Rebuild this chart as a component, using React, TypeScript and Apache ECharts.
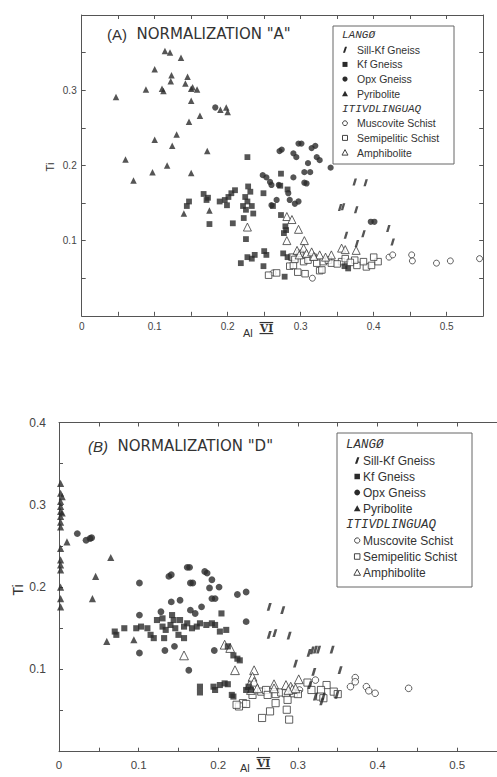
import React, { useEffect, useRef } from "react";
import * as echarts from "echarts";

type P = [number, number];

// ---------- Panel A (Normalization "A") ----------
const A_sill: P[] = [
  [0.354, 0.144], [0.358, 0.145], [0.376, 0.141], [0.420, 0.116], [0.362, 0.107],
  [0.386, 0.109], [0.426, 0.098], [0.374, 0.178], [0.389, 0.177], [0.377, 0.096],
];
const A_kf: P[] = [
  [0.227, 0.211], [0.273, 0.189], [0.282, 0.168], [0.272, 0.173], [0.249, 0.163],
  [0.228, 0.172], [0.231, 0.165], [0.224, 0.158], [0.227, 0.152], [0.233, 0.146],
  [0.221, 0.146], [0.225, 0.141], [0.235, 0.136], [0.210, 0.167], [0.205, 0.163],
  [0.201, 0.158], [0.196, 0.154], [0.189, 0.152], [0.199, 0.147], [0.167, 0.162],
  [0.173, 0.157], [0.171, 0.154], [0.147, 0.152], [0.144, 0.146], [0.175, 0.122],
  [0.207, 0.123], [0.222, 0.130], [0.225, 0.102], [0.262, 0.146], [0.273, 0.134],
  [0.279, 0.119], [0.280, 0.114], [0.277, 0.110], [0.250, 0.086], [0.253, 0.081],
  [0.227, 0.078], [0.233, 0.076], [0.237, 0.081], [0.218, 0.070], [0.249, 0.066],
  [0.276, 0.083], [0.282, 0.078], [0.278, 0.052], [0.365, 0.063], [0.360, 0.066],
];
const A_opx: P[] = [
  [0.183, 0.277], [0.271, 0.219], [0.274, 0.221], [0.290, 0.216], [0.294, 0.211],
  [0.297, 0.229], [0.301, 0.229], [0.315, 0.223], [0.320, 0.226], [0.322, 0.211],
  [0.326, 0.207], [0.310, 0.203], [0.305, 0.191], [0.313, 0.191], [0.305, 0.177],
  [0.308, 0.176], [0.248, 0.187], [0.253, 0.184], [0.258, 0.178], [0.260, 0.174],
  [0.290, 0.184], [0.270, 0.174], [0.267, 0.154], [0.260, 0.147], [0.283, 0.163],
  [0.285, 0.154], [0.292, 0.149], [0.297, 0.152], [0.341, 0.197], [0.396, 0.125],
  [0.401, 0.125],
];
const A_pyribolite: P[] = [
  [0.047, 0.291], [0.088, 0.301], [0.100, 0.328], [0.114, 0.352], [0.121, 0.350],
  [0.136, 0.343], [0.123, 0.320], [0.122, 0.312], [0.110, 0.302], [0.112, 0.299],
  [0.145, 0.318], [0.142, 0.309], [0.150, 0.302], [0.152, 0.304], [0.158, 0.301],
  [0.150, 0.286], [0.147, 0.258], [0.162, 0.266], [0.190, 0.274], [0.198, 0.277],
  [0.200, 0.271], [0.130, 0.241], [0.100, 0.234], [0.124, 0.226], [0.060, 0.208],
  [0.071, 0.180], [0.097, 0.191], [0.117, 0.200], [0.150, 0.190], [0.172, 0.219],
  [0.140, 0.136], [0.175, 0.140],
];
const A_muscovite: P[] = [
  [0.421, 0.078], [0.426, 0.081], [0.452, 0.081], [0.453, 0.073], [0.486, 0.070],
  [0.505, 0.073], [0.545, 0.076], [0.316, 0.050], [0.262, 0.057],
];
const A_semipelitic: P[] = [
  [0.256, 0.054], [0.267, 0.057], [0.285, 0.066], [0.296, 0.058], [0.306, 0.056],
  [0.326, 0.060], [0.288, 0.078], [0.299, 0.083], [0.304, 0.072], [0.310, 0.074],
  [0.317, 0.078], [0.322, 0.070], [0.331, 0.072], [0.338, 0.074], [0.342, 0.070],
  [0.356, 0.072], [0.377, 0.067], [0.390, 0.065], [0.397, 0.067], [0.406, 0.072],
  [0.400, 0.078], [0.290, 0.067], [0.329, 0.061], [0.374, 0.074], [0.361, 0.076],
  [0.350, 0.069], [0.368, 0.071], [0.386, 0.072], [0.292, 0.075],
];
const A_amphibolite: P[] = [
  [0.281, 0.132], [0.288, 0.128], [0.227, 0.118], [0.297, 0.115], [0.281, 0.100],
  [0.305, 0.100], [0.295, 0.087], [0.304, 0.090], [0.298, 0.081], [0.308, 0.083],
  [0.315, 0.085], [0.326, 0.081], [0.342, 0.081], [0.356, 0.090], [0.361, 0.088],
  [0.376, 0.087], [0.334, 0.078], [0.318, 0.079],
];

// ---------- Panel B (Normalization "D") ----------
const B_sill: P[] = [
  [0.264, 0.176], [0.281, 0.172], [0.264, 0.142], [0.271, 0.144], [0.289, 0.141],
  [0.297, 0.107], [0.314, 0.120], [0.318, 0.123], [0.322, 0.124], [0.326, 0.124],
  [0.343, 0.124], [0.353, 0.099], [0.320, 0.097], [0.322, 0.067], [0.330, 0.061],
  [0.332, 0.067], [0.349, 0.069], [0.315, 0.081],
];
const B_kf: P[] = [
  [0.070, 0.146], [0.072, 0.142], [0.082, 0.150], [0.097, 0.150], [0.103, 0.152],
  [0.111, 0.150], [0.115, 0.142], [0.119, 0.138], [0.130, 0.152], [0.134, 0.148],
  [0.140, 0.154], [0.144, 0.160], [0.146, 0.150], [0.152, 0.160], [0.157, 0.152],
  [0.161, 0.156], [0.167, 0.150], [0.173, 0.152], [0.177, 0.156], [0.185, 0.154],
  [0.192, 0.156], [0.196, 0.154], [0.202, 0.146], [0.204, 0.168], [0.210, 0.148],
  [0.150, 0.142], [0.157, 0.138], [0.132, 0.138], [0.123, 0.160], [0.130, 0.162],
  [0.142, 0.166], [0.177, 0.079], [0.177, 0.072], [0.194, 0.079], [0.196, 0.075],
  [0.202, 0.081], [0.208, 0.083], [0.212, 0.082], [0.217, 0.069], [0.219, 0.067],
  [0.238, 0.079], [0.241, 0.075], [0.235, 0.075], [0.219, 0.117], [0.224, 0.113],
  [0.227, 0.111], [0.212, 0.128],
];
const B_opx: P[] = [
  [0.023, 0.265], [0.034, 0.257], [0.039, 0.259], [0.041, 0.260], [0.101, 0.205],
  [0.138, 0.213], [0.141, 0.215], [0.161, 0.224], [0.164, 0.224], [0.183, 0.219],
  [0.186, 0.217], [0.192, 0.209], [0.165, 0.205], [0.168, 0.205], [0.189, 0.199],
  [0.201, 0.200], [0.224, 0.191], [0.235, 0.194], [0.192, 0.186], [0.196, 0.186],
  [0.152, 0.184], [0.141, 0.182], [0.101, 0.166], [0.128, 0.170], [0.165, 0.172],
  [0.171, 0.168], [0.179, 0.176], [0.235, 0.158], [0.195, 0.123], [0.163, 0.099],
  [0.101, 0.120], [0.133, 0.123], [0.145, 0.128],
];
const B_pyribolite: P[] = [
  [0.002, 0.326], [0.002, 0.314], [0.002, 0.304], [0.002, 0.298], [0.002, 0.292],
  [0.002, 0.286], [0.002, 0.279], [0.002, 0.273], [0.002, 0.247], [0.002, 0.233],
  [0.002, 0.227], [0.002, 0.221], [0.002, 0.200], [0.002, 0.186], [0.002, 0.176],
  [0.004, 0.310], [0.004, 0.290], [0.010, 0.255], [0.065, 0.236], [0.046, 0.213],
  [0.042, 0.186], [0.060, 0.134], [0.094, 0.136],
];
const B_muscovite: P[] = [
  [0.372, 0.090], [0.372, 0.085], [0.366, 0.079], [0.386, 0.079], [0.389, 0.074],
  [0.397, 0.071], [0.439, 0.077], [0.322, 0.087], [0.302, 0.075],
];
const B_semipelitic: P[] = [
  [0.312, 0.084], [0.336, 0.081], [0.317, 0.075], [0.329, 0.075], [0.345, 0.073],
  [0.350, 0.070], [0.328, 0.067], [0.332, 0.065], [0.243, 0.069], [0.254, 0.073],
  [0.260, 0.075], [0.262, 0.069], [0.272, 0.070], [0.279, 0.072], [0.285, 0.071],
  [0.287, 0.063], [0.295, 0.071], [0.231, 0.059], [0.226, 0.055], [0.223, 0.057],
  [0.235, 0.058], [0.272, 0.059], [0.265, 0.049], [0.286, 0.051], [0.255, 0.041],
  [0.289, 0.039], [0.300, 0.070],
];
const B_amphibolite: P[] = [
  [0.208, 0.130], [0.215, 0.126], [0.157, 0.117], [0.221, 0.099], [0.245, 0.099],
  [0.243, 0.091], [0.245, 0.085], [0.239, 0.081], [0.241, 0.075], [0.249, 0.077],
  [0.270, 0.082], [0.270, 0.077], [0.285, 0.081], [0.291, 0.079], [0.293, 0.076],
  [0.297, 0.077], [0.301, 0.088], [0.288, 0.075],
];

// ---------- Tick labels / legend text ----------
const X_TICK_LABELS = [0, 0.1, 0.2, 0.3, 0.4, 0.5];
const Y_TICK_LABELS_A = [0.1, 0.2, 0.3];
const Y_TICK_LABELS_B = [0.1, 0.2, 0.3, 0.4];
const TITLE_A = 'NORMALIZATION "A"';
const TITLE_B = 'NORMALIZATION "D"';
const GROUP_1 = "LANGØ";
const GROUP_2 = "ITIVDLINGUAQ";
const NAMES_1 = ["Sill-Kf Gneiss", "Kf Gneiss", "Opx Gneiss", "Pyribolite"];
const NAMES_2 = ["Muscovite Schist", "Semipelitic Schist", "Amphibolite"];

const DARK = "#2a2a2a";
const LINE = "#555";
const SILL_PATH = "path://M3,0 L6.5,0 L3.5,8 L0,8 Z";
const SANS = '"Liberation Sans", Arial, sans-serif';
const TITLEF = '"DejaVu Sans", sans-serif';
const MONO = '"Liberation Mono", "DejaVu Sans Mono", monospace';

const fmt = (list: number[]) => (v: number) => {
  const hit = list.find((t) => Math.abs(t - v) < 1e-6);
  if (hit === undefined) return "";
  return hit === 0 ? "0" : hit.toFixed(1);
};

const seriesStyle = (kind: string, scale: number) => {
  const open = { color: "#fff", borderColor: "#3a3a3a", borderWidth: 1 };
  switch (kind) {
    case "sill":
      return { symbol: SILL_PATH, symbolSize: [4.5 * scale, 7 * scale], itemStyle: { color: DARK } };
    case "kf":
      return { symbol: "rect", symbolSize: 5.8 * scale, itemStyle: { color: DARK } };
    case "opx":
      return { symbol: "circle", symbolSize: 6.2 * scale, itemStyle: { color: DARK } };
    case "pyr":
      return { symbol: "triangle", symbolSize: 6.5 * scale, itemStyle: { color: DARK } };
    case "musc":
      return { symbol: "circle", symbolSize: 6 * scale, itemStyle: open };
    case "semi":
      return { symbol: "rect", symbolSize: 6.5 * scale, itemStyle: open };
    default:
      return { symbol: "triangle", symbolSize: 8 * scale, itemStyle: open };
  }
};

const mkSeries = (name: string, kind: string, data: P[], axis: number, scale: number) => ({
  name,
  type: "scatter",
  xAxisIndex: axis,
  yAxisIndex: axis,
  data,
  ...seriesStyle(kind, scale),
});

const legendGraphic = (
  x: number, y: number, w: number, h: number, row0: number, step: number,
  symX: number, textX: number, fs: number, hfs: number, sc: number
) => {
  const els: any[] = [
    { type: "rect", shape: { x, y, width: w, height: h }, style: { fill: "#fff", stroke: "#666", lineWidth: 1 } },
  ];
  const header = (label: string, cy: number) => ({
    type: "text", x: x + 9, y: cy,
    style: { text: label, font: `italic ${hfs}px ${MONO}`, fill: "#333", textVerticalAlign: "middle" },
  });
  const item = (label: string, cy: number) => ({
    type: "text", x: textX, y: cy,
    style: { text: label, font: `${fs}px ${SANS}`, fill: "#333", textVerticalAlign: "middle" },
  });
  const dark = { fill: DARK };
  const open = { fill: "#fff", stroke: "#444", lineWidth: 1 };
  const s = sc;
  const rows = [0, 1, 2, 3, 4, 5, 6, 7, 8].map((i) => row0 + i * step);
  els.push(header(GROUP_1, rows[0]));
  els.push({ type: "polygon", shape: { points: [[symX, rows[1] + 3 * s], [symX + 2 * s, rows[1] - 3 * s], [symX + 4 * s, rows[1] - 3 * s], [symX + 2 * s, rows[1] + 3 * s]] }, style: dark });
  els.push(item(NAMES_1[0], rows[1]));
  els.push({ type: "rect", shape: { x: symX - 0.5 * s, y: rows[2] - 2.5 * s, width: 5 * s, height: 5 * s }, style: dark });
  els.push(item(NAMES_1[1], rows[2]));
  els.push({ type: "circle", shape: { cx: symX + 2 * s, cy: rows[3], r: 2.6 * s }, style: dark });
  els.push(item(NAMES_1[2], rows[3]));
  els.push({ type: "polygon", shape: { points: [[symX + 2 * s, rows[4] - 3 * s], [symX + 5 * s, rows[4] + 2.5 * s], [symX - 1 * s, rows[4] + 2.5 * s]] }, style: dark });
  els.push(item(NAMES_1[3], rows[4]));
  els.push(header(GROUP_2, rows[5]));
  els.push({ type: "circle", shape: { cx: symX + 2 * s, cy: rows[6], r: 2.4 * s }, style: open });
  els.push(item(NAMES_2[0], rows[6]));
  els.push({ type: "rect", shape: { x: symX - 0.5 * s, y: rows[7] - 2.5 * s, width: 5 * s, height: 5 * s }, style: open });
  els.push(item(NAMES_2[1], rows[7]));
  els.push({ type: "polygon", shape: { points: [[symX + 2 * s, rows[8] - 3 * s], [symX + 5 * s, rows[8] + 2.5 * s], [symX - 1 * s, rows[8] + 2.5 * s]] }, style: open });
  els.push(item(NAMES_2[2], rows[8]));
  return els;
};

const alLabel = (x: number, y: number, fs: number) => [
  { type: "text", x, y, style: { text: "Al", font: `${fs}px ${SANS}`, fill: "#333", textVerticalAlign: "middle" } },
  { type: "text", x: x + fs * 1.55, y: y - fs * 0.45, style: { text: "VI", font: `bold ${fs * 0.95}px "DejaVu Serif", serif`, fill: "#333", textVerticalAlign: "middle" } },
  { type: "line", shape: { x1: x + fs * 1.5, y1: y - fs * 0.95, x2: x + fs * 2.75, y2: y - fs * 0.95 }, style: { stroke: "#333", lineWidth: 1.2 } },
  { type: "line", shape: { x1: x + fs * 1.5, y1: y + fs * 0.05, x2: x + fs * 2.75, y2: y + fs * 0.05 }, style: { stroke: "#333", lineWidth: 1.2 } },
];

export default function App() {
  const ref = useRef<HTMLDivElement>(null);
  useEffect(() => {
    if (!ref.current) return;
    const chart = echarts.init(ref.current, null, { renderer: "svg" });
    const lineStyle = { color: LINE, width: 1 };
    const xAx = (gridIndex: number, position: string, labels: boolean, fs: number, margin: number) => ({
      type: "value", gridIndex, position, min: 0, max: 0.55, interval: 0.05,
      axisLine: { show: true, onZero: false, lineStyle },
      axisTick: { show: true, inside: true, length: 4, lineStyle },
      splitLine: { show: false },
      axisLabel: labels
        ? { show: true, formatter: fmt(X_TICK_LABELS), fontSize: fs, color: "#444", margin, fontFamily: SANS, showMaxLabel: false }
        : { show: false },
    });
    const yAx = (gridIndex: number, position: string, list: number[] | null, fs: number, margin: number, visible = true) => ({
      type: "value", gridIndex, position, min: 0, max: 0.4, interval: 0.05,
      axisLine: { show: visible, onZero: false, lineStyle },
      axisTick: { show: visible, inside: true, length: 4, lineStyle },
      splitLine: { show: false },
      axisLabel: list
        ? { show: true, formatter: fmt(list), fontSize: fs, color: "#444", margin, fontFamily: SANS }
        : { show: false },
    });

    chart.setOption({
      animation: false,
      backgroundColor: "#fff",
      grid: [
        { left: 81.7, top: 15, width: 401.5, height: 300.8 },
        { left: 59, top: 422.5, width: 443, height: 329.2 },
      ],
      xAxis: [
        xAx(0, "bottom", true, 10, 6),
        xAx(0, "top", false, 10, 6),
        xAx(1, "bottom", true, 11.5, 7),
        xAx(1, "top", false, 11, 6),
      ],
      yAxis: [
        yAx(0, "left", Y_TICK_LABELS_A, 10, 5),
        yAx(0, "right", null, 10, 5),
        yAx(1, "left", Y_TICK_LABELS_B, 12, 13),
        yAx(1, "right", null, 11, 5, false),
      ],
      series: [
        mkSeries("Muscovite Schist A", "musc", A_muscovite, 0, 1),
        mkSeries("Semipelitic Schist A", "semi", A_semipelitic, 0, 1),
        mkSeries("Amphibolite A", "amph", A_amphibolite, 0, 1),
        mkSeries("Sill-Kf Gneiss A", "sill", A_sill, 0, 1),
        mkSeries("Kf Gneiss A", "kf", A_kf, 0, 1),
        mkSeries("Opx Gneiss A", "opx", A_opx, 0, 1),
        mkSeries("Pyribolite A", "pyr", A_pyribolite, 0, 1),
        mkSeries("Muscovite Schist B", "musc", B_muscovite, 2, 1.1),
        mkSeries("Semipelitic Schist B", "semi", B_semipelitic, 2, 1.1),
        mkSeries("Amphibolite B", "amph", B_amphibolite, 2, 1.1),
        mkSeries("Sill-Kf Gneiss B", "sill", B_sill, 2, 1.1),
        mkSeries("Kf Gneiss B", "kf", B_kf, 2, 1.05),
        mkSeries("Opx Gneiss B", "opx", B_opx, 2, 1.1),
        mkSeries("Pyribolite B", "pyr", B_pyribolite, 2, 1.1),
      ],
      graphic: [
        {
          type: "text", x: 107, y: 34,
          style: {
            text: "{p|(A)}  " + TITLE_A,
            font: `15px ${TITLEF}`, fill: "#333", textVerticalAlign: "middle",
            rich: { p: { font: `15px ${SANS}`, fill: "#333" } },
          },
        },
        {
          type: "text", x: 88, y: 446,
          style: {
            text: "{p|(B)}  " + TITLE_B,
            font: `15px ${TITLEF}`, fill: "#333", textVerticalAlign: "middle",
            rich: { p: { font: `italic 15px ${SANS}`, fill: "#333" } },
          },
        },
        { type: "text", x: 50, y: 167, rotation: Math.PI / 2, style: { text: "Ti", font: `11px ${SANS}`, fill: "#333", textAlign: "center", textVerticalAlign: "middle" } },
        { type: "text", x: 18, y: 590, rotation: Math.PI / 2, style: { text: "Ti", font: `14px ${SANS}`, fill: "#333", textAlign: "center", textVerticalAlign: "middle" } },
        ...alLabel(243, 333, 11),
        ...alLabel(240, 768, 11),
        ...legendGraphic(333, 26, 121, 138, 35, 14.7, 343, 357, 10.5, 11, 1),
        ...legendGraphic(337, 433, 135, 154, 444.5, 16, 355, 363, 12, 12.5, 1.1),
      ],
    });
    return () => chart.dispose();
  }, []);
  return <div ref={ref} style={{ position: "fixed", left: 0, top: 0, width: 497, height: 777 }} />;
}
